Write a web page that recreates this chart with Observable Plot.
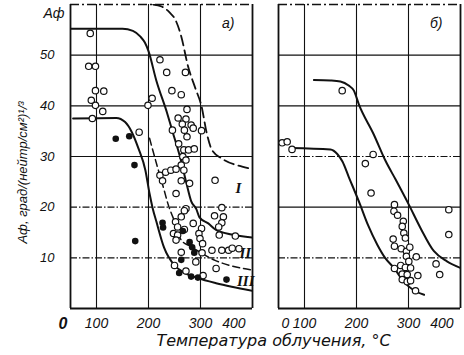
<!DOCTYPE html>
<html><head><meta charset="utf-8">
<script src="https://cdn.jsdelivr.net/npm/d3@7"></script>
<script src="https://cdn.jsdelivr.net/npm/@observablehq/plot@0.6"></script>
<style>body{margin:0;background:#fff} svg{display:block}</style>
</head><body><div id="chart"></div>
<script>
const panels = ["a", "b"];
const panelTags = ["a)", "б)"];
const gridX = [100, 200, 300];
const gridY = [10, 20, 30, 40, 50];
const dashDotA = [10, 20];
const dashDotB = [10, 30];
const xTickValues = [100, 200, 300];
const yTickValues = [10, 20, 30, 40, 50];
const yTitle = "Aф, град/(нейтр/см²)¹/³";
const xTitle = "Температура облучения, °C";
const yTopLabel = "Aф";

// Panel a — open circles
const aOpenX = [88,85,98,98,114,90,98,112,92,182,199,207,222,235,271,245,263,274,257,272,265,282,269,286,302,246,274,258,268,277,288,266,272,263,268,222,233,243,253,227,263,279,253,328,272,341,269,263,252,248,256,253,269,286,302,297,299,304,303,263,291,250,272,305,327,344,341,335,336,367,322,341,354,361,374,330,256];
const aOpenY = [54.3,47.8,47.8,43.0,42.9,41.1,40.1,38.9,37.5,34.8,40.1,41.5,49.1,46.6,46.6,43.0,42.2,39.3,37.6,37.4,36.4,36.2,35.2,35.6,35.1,35.2,33.9,32.5,31.3,31.3,31.5,30.0,29.3,28.3,27.3,26.3,26.9,27.3,27.5,25.2,25.2,24.7,22.7,25.3,19.7,19.9,19.3,18.1,17.1,14.8,14.5,13.5,15.6,16.8,15.8,14.8,13.8,12.8,11.0,11.1,9.2,8.5,7.4,6.5,18.3,18.1,16.9,16.1,14.5,14.3,11.5,11.5,11.5,11.9,11.8,7.9,16.1];
// Panel a — filled circles
const aFillX = [137,163,173,174.5,227,228,266,279,284,288,263,259,282,295,350];
const aFillY = [33.5,34.0,28.3,13.3,16.9,16.0,15.3,13.1,12.1,11.0,9.6,7.0,6.3,6.1,5.7];
// Panel b — open circles
const bOpenX = [57,66.7,76,172.5,232,217,228,273,272,279,290,288,291,270.5,273,286,294,296,302.5,296,315,300.6,285,294,304,273,288,297.5,318,288,297.5,304,313.5,377.5,377.5,353,360];
const bOpenY = [32.7,32.9,31.4,43.0,30.4,28.6,22.8,20.5,19.2,18.4,17.2,16.2,14.9,13.7,12.3,11.8,13.9,11.3,12.1,10.3,10.2,9.3,8.5,8.1,8.0,7.9,6.8,6.7,6.5,5.7,5.3,5.5,3.5,19.5,14.6,8.8,6.7];

// Curves, panel a
const aCurveIx = [209,225,240,253,263,276,290,302,312,322,341,380,400];
const aCurveIy = [60,59.6,58.5,56.7,53.7,47.8,43.5,39.9,34.6,31.3,29.6,28,27.5];
const aCurveIIx = [50,150,170,184,193,200,215,236,246,263,273,282,292,298,315,330,360,400];
const aCurveIIy = [55.2,55.2,54.8,53.7,52.5,50.8,45,38.5,35,29,24.7,21.2,19.6,18,16.8,15.5,14.6,14];
const aCurveIIIx = [55,138,155,168,181,194,202,208,215,230,250,270,295,330,360,400];
const aCurveIIIy = [37.5,37.6,36.8,34.8,31.5,27.3,22.7,19.8,17.2,12,8.5,7,6,5,4.3,3.5];
const aCurveIVx = [202,217,230,237,250,263,280,296,328,360,400];
const aCurveIVy = [33.6,28,23.4,20.8,17.2,13.5,12.3,11.3,9.5,8.4,7.6];
// Curves, panel b
const bUpperX = [118,150,169,185,195,204.5,233,256,275,300.6,323,349,374,400];
const bUpperY = [45.1,45,44.8,44,43,40.3,34.4,29.1,25.5,20.5,15.9,11.3,9.3,8];
const bLowerX = [73,150,163,173,185,207,222,240,255,272,291,310,330];
const bLowerY = [31.7,31.4,30.5,29,26,20.5,16.5,12.6,10,8,5.3,3.6,2.7];

// Curve labels (panel a)
const curveLabels = ["I", "II", "III"];
const curveLabelX = [373, 386, 387];
const curveLabelY = [23.7, 11.0, 5.4];

const rows = (xs, ys, extra) => xs.map((x, i) => ({x, y: ys[i], ...extra}));
const openPts = [...rows(aOpenX, aOpenY, {panel: "a"}), ...rows(bOpenX, bOpenY, {panel: "b"})];
const filledPts = rows(aFillX, aFillY, {panel: "a"});
const solidCurves = [
  ...rows(aCurveIIx, aCurveIIy, {panel: "a", id: "aII"}),
  ...rows(aCurveIIIx, aCurveIIIy, {panel: "a", id: "aIII"}),
  ...rows(bUpperX, bUpperY, {panel: "b", id: "bU"}),
  ...rows(bLowerX, bLowerY, {panel: "b", id: "bL"})
];
const dashedI = rows(aCurveIx, aCurveIy, {panel: "a", id: "aI"});
const dashedIV = rows(aCurveIVx, aCurveIVy, {panel: "a", id: "aIV"});
const dd = {a: dashDotA, b: dashDotB};
const gridSolid = panels.flatMap(p => gridY.filter(v => !dd[p].includes(v)).map(v => ({panel: p, y: v})));
const gridDash = panels.flatMap(p => dd[p].map(v => ({panel: p, y: v})));
const labelRows = curveLabels.map((t, i) => ({panel: "a", text: t, x: curveLabelX[i], y: curveLabelY[i]}));
const tagRows = panels.map((p, i) => ({panel: p, text: panelTags[i]}));

const ink = "#111";
const sans = "'Liberation Sans', Arial, sans-serif";

const chart = Plot.plot({
  width: 464, height: 355,
  marginLeft: 70, marginRight: 4, marginTop: 4, marginBottom: 47,
  x: {domain: [50, 400]},
  y: {domain: [0, 60]},
  fx: {domain: panels, paddingInner: 0.125, paddingOuter: 0, axis: null},
  style: {fontFamily: sans, background: "white", color: ink},
  marks: [
    Plot.ruleX(gridX, {stroke: ink, strokeWidth: 1.1}),
    Plot.ruleY(gridSolid, {fx: "panel", y: "y", stroke: ink, strokeWidth: 1.1}),
    Plot.ruleY(gridDash, {fx: "panel", y: "y", stroke: ink, strokeWidth: 1.1, strokeDasharray: "7,2,1.5,2"}),
    Plot.ruleX([50, 400], {stroke: ink, strokeWidth: 1.8}),
    Plot.ruleY([0], {stroke: ink, strokeWidth: 2}),
    Plot.ruleY([60], {stroke: ink, strokeWidth: 1.4, strokeDasharray: "9,3,2,3"}),
    Plot.line(solidCurves, {fx: "panel", x: "x", y: "y", z: "id", stroke: ink, strokeWidth: 2, curve: "monotone-x", clip: true}),
    Plot.line(dashedI, {fx: "panel", x: "x", y: "y", stroke: ink, strokeWidth: 1.8, strokeDasharray: "10,5", curve: "monotone-x", clip: true}),
    Plot.line(dashedIV, {fx: "panel", x: "x", y: "y", stroke: ink, strokeWidth: 1.5, strokeDasharray: "7,4", curve: "monotone-x", clip: true}),
    Plot.dot(openPts, {fx: "panel", x: "x", y: "y", r: 3.2, fill: "white", stroke: ink, strokeWidth: 1.2}),
    Plot.dot(filledPts, {fx: "panel", x: "x", y: "y", r: 3.3, fill: ink}),
    Plot.axisY({ticks: yTickValues, tickSize: 0, tickPadding: 16, fontSize: 13, fontStyle: "italic", label: null}),
    Plot.axisX({ticks: xTickValues, tickSize: 0, tickPadding: 10, fontSize: 14, fontStyle: "italic", label: null}),
    Plot.text(["400"], {frameAnchor: "bottom-right", text: d => d, dx: -7, dy: 10, lineAnchor: "top", fontSize: 14, fontStyle: "italic"}),
    Plot.text([{panel: "a", t: "0"}], {fx: "panel", text: "t", frameAnchor: "bottom-left", dx: -12, dy: 9, lineAnchor: "top", fontSize: 16, fontWeight: "bold", fontStyle: "italic"}),
    Plot.text([{panel: "b", t: "0"}], {fx: "panel", text: "t", frameAnchor: "bottom-left", dx: 3, dy: 10, lineAnchor: "top", fontSize: 14, fontStyle: "italic"}),
    Plot.text([{panel: "b", t: xTitle}], {fx: "panel", text: "t", frameAnchor: "bottom-left", dx: -5, dy: 37, lineAnchor: "bottom", textAnchor: "middle", fontFamily: "'DejaVu Sans', sans-serif", fontSize: 16, fontStyle: "italic", letterSpacing: 0.6}),
    Plot.text([{panel: "a", t: yTitle}], {fx: "panel", text: "t", frameAnchor: "left", rotate: -90, dx: -48, dy: 16, textAnchor: "middle", lineAnchor: "middle", fontSize: 13, fontStyle: "italic"}),
    Plot.text([{panel: "a", t: yTopLabel}], {fx: "panel", text: "t", frameAnchor: "top-left", dx: -27, dy: 13, textAnchor: "start", lineAnchor: "bottom", fontSize: 14, fontStyle: "italic"}),
    Plot.text(tagRows, {fx: "panel", text: "text", frameAnchor: "top-right", dx: -18, dy: 19, lineAnchor: "middle", fontSize: 14, fontStyle: "italic"}),
    Plot.text(labelRows, {fx: "panel", x: "x", y: "y", text: "text", fontFamily: "'Liberation Serif', serif", fontSize: 15, fontStyle: "italic", fontWeight: "bold", fill: ink})
  ]
});
document.getElementById("chart").appendChild(chart);
</script>
</body></html>
